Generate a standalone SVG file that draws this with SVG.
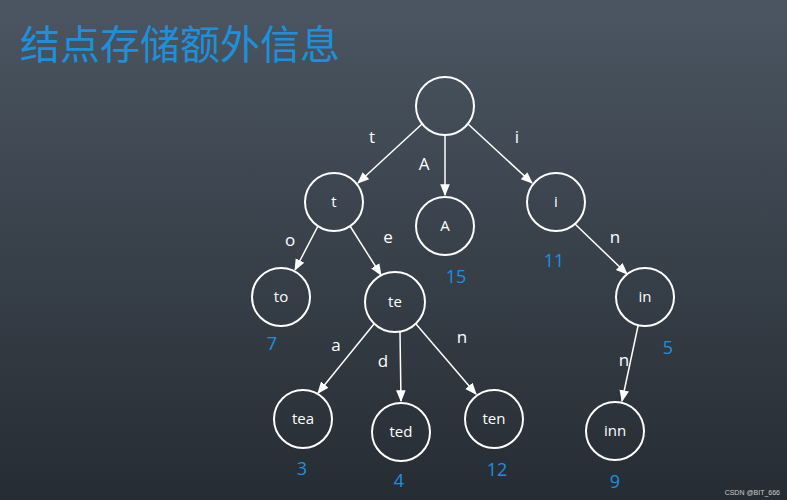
<svg xmlns="http://www.w3.org/2000/svg" width="787" height="500" viewBox="0 0 787 500">
<defs>
<linearGradient id="bg" x1="0" y1="0" x2="0" y2="1">
<stop offset="0" stop-color="#4b5662"/><stop offset="1" stop-color="#262c33"/>
</linearGradient>
<marker id="ar" viewBox="0 0 10 10" refX="9" refY="5" markerWidth="8" markerHeight="8" orient="auto"><path d="M0,1 L10,5 L0,9 z" fill="#fff"/></marker>
<style>
.n circle{fill:none;stroke:#fff;stroke-width:2}
.n text{fill:#fff;font-family:"Open Sans","Liberation Sans",sans-serif;font-size:15px;text-anchor:middle}
.e line{stroke:#fff;stroke-width:1.5;marker-end:url(#ar)}
.l{fill:#fff;font-family:"Open Sans","Liberation Sans",sans-serif;font-size:17px;text-anchor:middle}
.v{fill:#1e90e0;font-family:"Open Sans","Liberation Sans",sans-serif;font-size:18px;text-anchor:middle}
</style>
</defs>
<rect width="787" height="500" fill="url(#bg)"/>
<text x="20" y="59" font-family="'Noto Sans CJK SC',sans-serif" font-size="40" fill="#1e8fd8">结点存储额外信息</text>
<g class="e" id="edges">
<line x1="422" y1="124" x2="358" y2="183"/>
<line x1="445" y1="135" x2="445" y2="195"/>
<line x1="468" y1="124" x2="532" y2="183"/>
<line x1="318" y1="226" x2="295" y2="270"/>
<line x1="350" y1="226" x2="381" y2="275"/>
<line x1="575" y1="224" x2="627" y2="274"/>
<line x1="374" y1="324" x2="318" y2="393"/>
<line x1="400" y1="332" x2="401" y2="401"/>
<line x1="416" y1="324" x2="476" y2="394"/>
<line x1="638" y1="326" x2="622" y2="401"/>
</g>
<g class="n" id="root"><circle cx="445" cy="106" r="29"/></g>
<g class="n" id="t"><circle cx="334" cy="202" r="29"/><text x="334" y="207">t</text></g>
<g class="n" id="A"><circle cx="445" cy="226" r="29"/><text x="445" y="231">A</text></g>
<g class="n" id="i"><circle cx="556" cy="202" r="29"/><text x="556" y="207">i</text></g>
<g class="n" id="to"><circle cx="281" cy="297" r="29"/><text x="281" y="302">to</text></g>
<g class="n" id="te"><circle cx="395" cy="302" r="30"/><text x="395" y="307">te</text></g>
<g class="n" id="in"><circle cx="645" cy="297" r="29"/><text x="645" y="302">in</text></g>
<g class="n" id="tea"><circle cx="303" cy="419" r="29"/><text x="303" y="424">tea</text></g>
<g class="n" id="ted"><circle cx="401" cy="432" r="29"/><text x="401" y="437">ted</text></g>
<g class="n" id="ten"><circle cx="494" cy="419" r="29"/><text x="494" y="424">ten</text></g>
<g class="n" id="inn"><circle cx="615" cy="431" r="29"/><text x="615" y="436">inn</text></g>
<g id="labels">
<text class="l" x="372" y="143">t</text>
<text class="l" x="424" y="170">A</text>
<text class="l" x="517" y="143">i</text>
<text class="l" x="290" y="246">o</text>
<text class="l" x="388" y="243">e</text>
<text class="l" x="615" y="243">n</text>
<text class="l" x="336" y="351">a</text>
<text class="l" x="383" y="367">d</text>
<text class="l" x="462" y="343">n</text>
<text class="l" x="624" y="366">n</text>
<text class="v" x="456" y="283">15</text>
<text class="v" x="554" y="267">11</text>
<text class="v" x="272" y="350">7</text>
<text class="v" x="668" y="354">5</text>
<text class="v" x="302" y="475">3</text>
<text class="v" x="399" y="487">4</text>
<text class="v" x="497" y="476">12</text>
<text class="v" x="615" y="488">9</text>
<text x="780" y="495" font-family="'Liberation Sans',sans-serif" font-size="7" fill="#ccc" text-anchor="end">CSDN @BIT_666</text>
</g>
</svg>
